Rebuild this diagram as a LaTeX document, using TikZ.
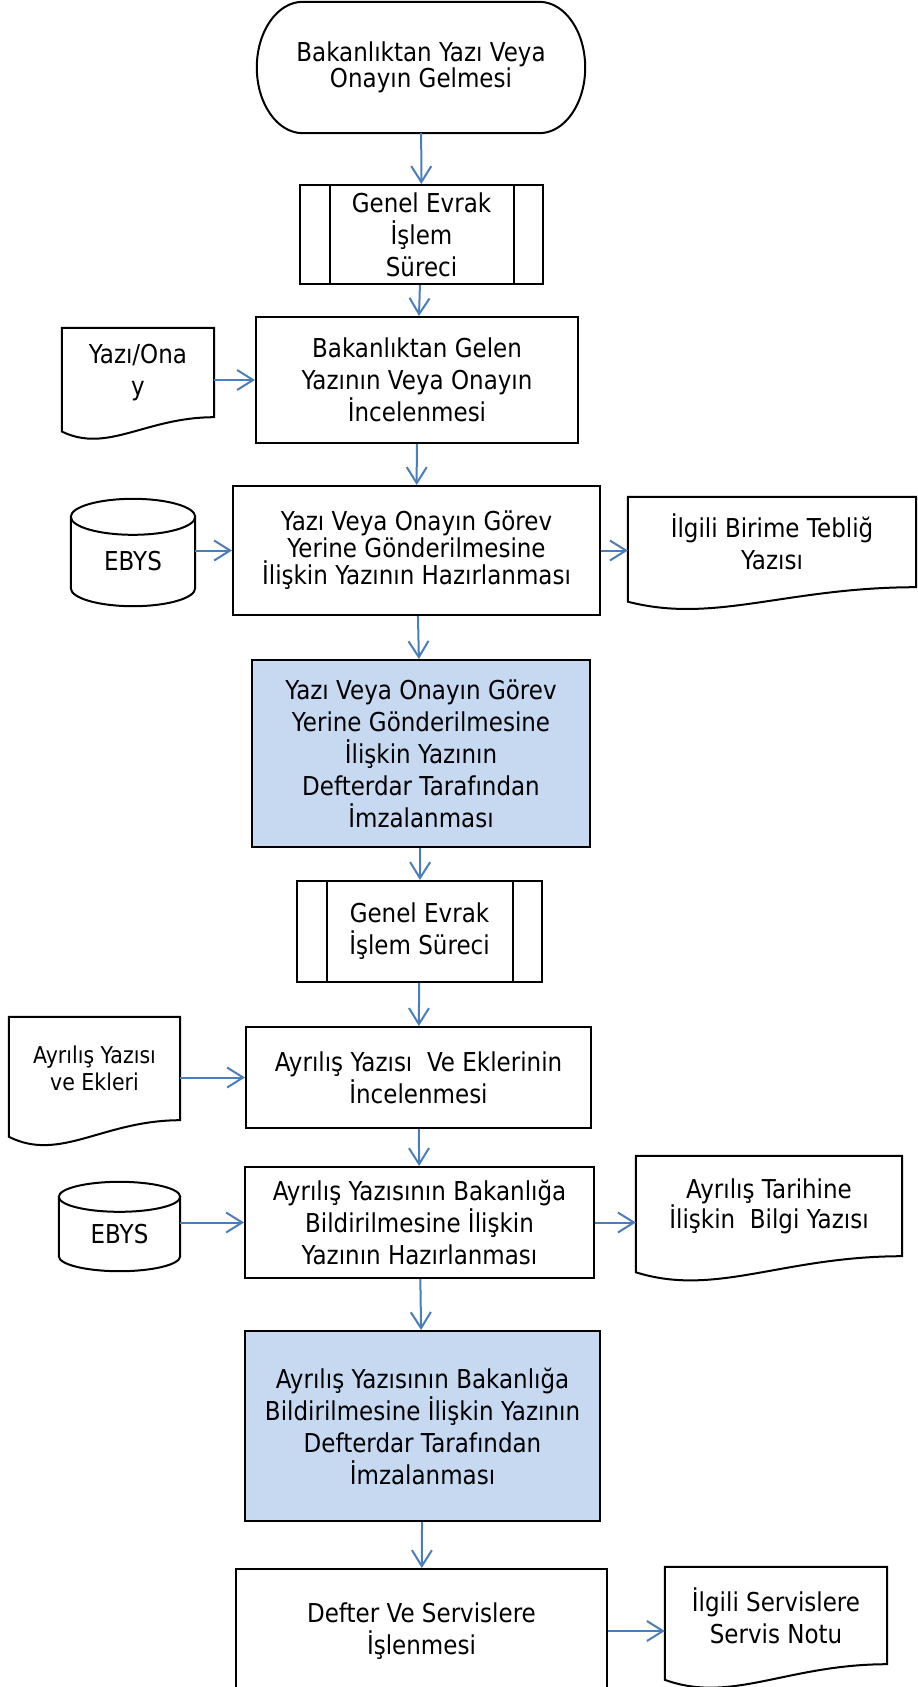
\documentclass[tikz,border=0pt]{standalone}
\usepackage{fontspec}
\setmainfont{DejaVu Sans}[FakeStretch=0.885]
\usetikzlibrary{arrows.meta,calc}
\definecolor{okmavi}{RGB}{74,126,187}
\definecolor{imzamavi}{RGB}{198,217,241}

\begin{document}
\begin{tikzpicture}[x=1pt,y=-1pt,
  cizgi/.style={line width=2pt,black},
  kutu/.style={rectangle,draw,line width=2pt,inner sep=0pt,align=center,font=\fontsize{26}{32}\selectfont},
  mavikutu/.style={kutu,fill=imzamavi},
  bos/.style={rectangle,inner sep=0pt,align=center,font=\fontsize{26}{32}\selectfont},
  ok/.style={okmavi,line width=2pt,-{Straight Barb[length=16pt,width=20pt]}}]
\useasboundingbox (0,0) rectangle (918,1687);
\clip (0,0) rectangle (918,1687);

% ana akis
\node[bos,minimum width=328,minimum height=131,font=\fontsize{26}{23}\selectfont] (basla) at (421,67.5) {Bakanlıktan Yazı Veya\\Onayın Gelmesi};
\node[kutu,minimum width=243,minimum height=99] (gep1) at (421.5,234.5) {Genel Evrak\\İşlem\\Süreci};
\node[kutu,minimum width=322,minimum height=126] (incele1) at (417,380) {Bakanlıktan Gelen\\Yazının Veya Onayın\\İncelenmesi};
\node[kutu,minimum width=367,minimum height=129,font=\fontsize{26}{27}\selectfont] (hazir1) at (416.5,550.5) {Yazı Veya Onayın Görev\\Yerine Gönderilmesine\\İlişkin Yazının Hazırlanması};
\node[mavikutu,minimum width=338,minimum height=187] (imza1) at (421,753.5) {Yazı Veya Onayın Görev\\Yerine Gönderilmesine\\İlişkin Yazının\\Defterdar Tarafından\\İmzalanması};
\node[kutu,minimum width=245,minimum height=101] (gep2) at (419.5,931.5) {Genel Evrak\\İşlem Süreci};
\node[kutu,minimum width=345,minimum height=101] (incele2) at (418.5,1077.5) {Ayrılış Yazısı\ \ Ve Eklerinin\\İncelenmesi};
\node[kutu,minimum width=349,minimum height=111] (hazir2) at (419.5,1222.5) {Ayrılış Yazısının Bakanlığa\\Bildirilmesine İlişkin\\Yazının Hazırlanması};
\node[mavikutu,minimum width=355,minimum height=190] (imza2) at (422.5,1426) {Ayrılış Yazısının Bakanlığa\\Bildirilmesine İlişkin Yazının\\Defterdar Tarafından\\İmzalanması};
\node[kutu,minimum width=371,minimum height=124] (defter) at (421.5,1631) {Defter Ve Servislere\\İşlenmesi};

% belgeler ve veri tabanlari
\node[bos,minimum width=152,minimum height=89] (yazi) at (138,372.5) {Yazı/Ona\\y};
\node[bos,minimum width=124,minimum height=89] (ebys1) at (133,561.5) {EBYS};
\node[bos,minimum width=288,minimum height=90] (teblig) at (772,542) {İlgili Birime Tebliğ\\Yazısı};
\node[bos,minimum width=171,minimum height=103,font=\fontsize{23.2}{27}\selectfont] (ekler) at (94.5,1068.5) {Ayrılış Yazısı\\ve Ekleri};
\node[bos,minimum width=121,minimum height=74] (ebys2) at (119.5,1234) {EBYS};
\node[bos,minimum width=266,minimum height=100,font=\fontsize{26}{24}\selectfont] (tarih) at (769,1206) {Ayrılış Tarihine\\İlişkin\ \ Bilgi Yazısı};
\node[bos,minimum width=222,minimum height=97] (servis) at (776,1615.5) {İlgili Servislere\\Servis Notu};

% cerceveler
\draw[cizgi] let \p1=(basla.north west), \p2=(basla.south east), \n1={(\y1-\y2)/2} in
  ({\x1+46pt},\y1) -- ({\x2-46pt},\y1) arc[start angle=90,end angle=-90,x radius=46pt,y radius={\n1*1pt}]
  -- ({\x1+46pt},\y2) arc[start angle=270,end angle=90,x radius=46pt,y radius={\n1*1pt}] -- cycle;
\foreach \g in {gep1,gep2}{%
  \draw[line width=1.2pt] ([xshift=31pt]\g.north west) -- ([xshift=31pt]\g.south west);
  \draw[line width=1.2pt] ([xshift=-30pt]\g.north east) -- ([xshift=-30pt]\g.south east);}
\foreach \d in {yazi,teblig,ekler,tarih,servis}{%
  \draw[cizgi] let \p1=(\d.north west), \p2=(\d.south east), \n1={\y1-\y2} in
    (\x1,\y1) -- (\x2,\y1) -- (\x2,\y2)
    .. controls ({\x1+0.55*(\x2-\x1)},\y2) and ({\x1+0.3*(\x2-\x1)},{\y2-0.41*\n1}) .. (\x1,{\y2-0.16*\n1}) -- cycle;}
\foreach \v/\r in {ebys1/18,ebys2/15}{%
  \draw[cizgi] let \p1=(\v.north west), \p2=(\v.south east) in
    (\x1,\y1) -- (\x1,{\y2+\r}) arc[start angle=180,end angle=360,x radius={(\x2-\x1)/2},y radius={\r*1pt}] -- (\x2,\y1)
    ({(\x1+\x2)/2},\y1) ellipse [x radius={(\x2-\x1)/2},y radius={\r*1pt}];}

% oklar
\draw[ok] (basla) -- (gep1);
\draw[ok] (gep1) -- (incele1);
\draw[ok] (incele1) -- (hazir1);
\draw[ok] (hazir1) -- (imza1);
\draw[ok] (imza1) -- (gep2);
\draw[ok] (gep2) -- (incele2);
\draw[ok] (incele2) -- (hazir2);
\draw[ok] (hazir2) -- (imza2);
\draw[ok] (imza2) -- (defter);
\draw[ok] (yazi.east |- incele1.west) -- (incele1.west);
\draw[ok] (ebys1.east |- hazir1.west) -- (hazir1.west);
\draw[ok] (hazir1.east) -- (hazir1.east -| teblig.west);
\draw[ok] (ekler.east |- incele2.west) -- (incele2.west);
\draw[ok] (ebys2.east |- hazir2.west) -- (hazir2.west);
\draw[ok] (hazir2.east) -- (hazir2.east -| tarih.west);
\draw[ok] (defter.east) -- (defter.east -| servis.west);
\end{tikzpicture}
\end{document}
